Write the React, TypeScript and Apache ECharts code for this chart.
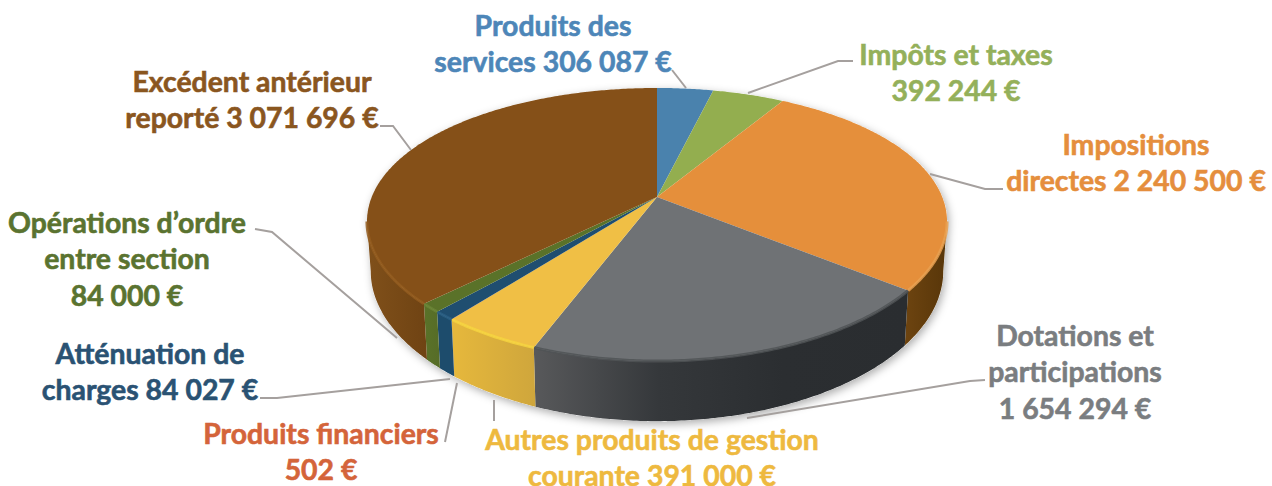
import React, { useEffect, useRef } from "react";
import * as echarts from "echarts";

const categories = [
  "Produits des services",
  "Impôts et taxes",
  "Impositions directes",
  "Dotations et participations",
  "Autres produits de gestion courante",
  "Produits financiers",
  "Atténuation de charges",
  "Opérations d’ordre entre section",
  "Excédent antérieur reporté",
];
const values = [306087, 392244, 2240500, 1654294, 391000, 502, 84027, 84000, 3071696];
const labelTexts = [
  "Produits des\nservices 306 087 €",
  "Impôts et taxes\n392 244 €",
  "Impositions\ndirectes 2 240 500 €",
  "Dotations et\nparticipations\n1 654 294 €",
  "Autres produits de gestion\ncourante 391 000 €",
  "Produits financiers\n502 €",
  "Atténuation de\ncharges 84 027 €",
  "Opérations d’ordre\nentre section\n84 000 €",
  "Excédent antérieur\nreporté 3 071 696 €",
];
const topColors = ["#4a82ad", "#93ae4f", "#e58f3b", "#6f7275", "#f0bf45", "#d9622e", "#1f4e70", "#5a7229", "#855018"];
const labelColors = ["#4d86b8", "#94b05a", "#e58e3d", "#7a7d80", "#eeb93f", "#d4643a", "#2a5273", "#5a7330", "#8a561f"];
const bevelColors = ["#5a92bd", "#a3be5f", "#e9a050", "#505356", "#f6d43e", "#e0704a", "#2a5f84", "#6a8435", "#935c1e"];
const wallStops: string[][] = [
  ["#3a6a8d", "#3a6a8d"],
  ["#76903e", "#76903e"],
  ["#6d4410", "#583609"],
  ["#58595b", "#35383b", "#2b2e31", "#2a2d30"],
  ["#e6b83c", "#cfa63c"],
  ["#b04a20", "#b04a20"],
  ["#1d4c6c", "#1d4c6c"],
  ["#5a7229", "#566c27"],
  ["#80501a", "#6f4313"],
];
const labelCentres = [
  [553, 43], [956, 72], [1136, 162], [1075, 371], [652, 457], [321, 451], [150, 371], [127, 258], [252, 99],
];
const leaders = [
  [[672, 70], [686, 88]],
  [[853, 61], [838, 61], [748, 93]],
  [[1003, 189], [985, 189], [930, 174]],
  [[985, 380], [970, 381], [747, 418]],
  [[494, 400], [494, 421]],
  [[457, 383], [445, 442]],
  [[260, 398], [277, 398], [450, 379]],
  [[255, 229], [272, 232], [397, 338]],
  [[380, 126], [393, 126], [411, 150]],
];

const CX = 657, CY = 197, A = 131, B = 285.3, P = 0.2015, PX = 0.18, D = 48, BOTTOM_X = 0.987;
const total = values.reduce((a, b) => a + b, 0);
const cumulative = values.reduce<number[]>((acc, v) => [...acc, acc[acc.length - 1] + v], [0]);
const toAngle = (v: number) => (v / total) * Math.PI * 2;
const WALL_START = Math.acos(-PX);
const WALL_END = Math.PI * 2 - WALL_START;

function project(theta: number, r: number, bottom: boolean): number[] {
  const u = Math.sin(theta) * r;
  const v = -Math.cos(theta) * r;
  const s = 1 / (1 - P * v);
  const sx = 1 / (1 - PX * v);
  const x = B * u * sx * (bottom ? BOTTOM_X : 1);
  const y = A * v * s + (bottom ? D * s : 0);
  return [CX + x, CY + y];
}
function arc(a: number, b: number, bottom: boolean): number[][] {
  const n = Math.max(2, Math.ceil((b - a) / 0.01));
  const pts: number[][] = [];
  for (let i = 0; i <= n; i++) pts.push(project(a + ((b - a) * i) / n, 1, bottom));
  return pts;
}

function renderSlice(params: any, api: any) {
  const i = params.dataIndex;
  const start = toAngle(cumulative[i]);
  const end = start + toAngle(api.value(0));
  const children: any[] = [];
  const a = Math.max(start, WALL_START);
  const b = Math.min(end, WALL_END);
  if (b > a) {
    const stops = wallStops[i];
    children.push({
      type: "polygon",
      shape: { points: [...arc(a, b, false), ...arc(a, b, true).reverse()] },
      style: {
        fill: {
          type: "linear", x: 0, y: 0, x2: 1, y2: 0,
          colorStops: stops.map((color, k) => ({ offset: k / (stops.length - 1), color })),
        },
      },
    });
  }
  children.push({
    type: "polygon",
    shape: { points: [[CX, CY], ...arc(start, end, false)] },
    style: { fill: topColors[i] },
  });
  if (b > a) {
    children.push({
      type: "polyline",
      shape: { points: arc(a, b, false) },
      style: { fill: "none", stroke: bevelColors[i], lineWidth: 3, opacity: 0.85 },
    });
  }
  return { type: "group", children };
}

function renderShadow() {
  const pts = [...arc(WALL_START, WALL_END, true), ...arc(WALL_END, WALL_START + Math.PI * 2, false)];
  return {
    type: "polygon",
    shape: { points: pts },
    style: { fill: "#ffffff", shadowColor: "rgba(0,0,0,0.32)", shadowBlur: 9, shadowOffsetX: 2, shadowOffsetY: 3 },
  };
}

export default function App() {
  const ref = useRef<HTMLDivElement>(null);
  useEffect(() => {
    const chart = echarts.init(ref.current!, null, { renderer: "svg" });
    chart.setOption({
      animation: false,
      backgroundColor: "#ffffff",
      series: [
        { type: "custom", coordinateSystem: "none", silent: true, data: [0], renderItem: renderShadow, z: 1 },
        {
          type: "custom",
          coordinateSystem: "none",
          silent: true,
          z: 2,
          data: categories.map((name, i) => ({ name, value: [values[i]] })),
          encode: { value: 0 },
          renderItem: renderSlice,
        },
      ],
      graphic: [
        ...leaders.map((points) => ({
          type: "polyline",
          z: 3,
          shape: { points },
          style: { fill: "none", stroke: "#a5a09e", lineWidth: 2 },
        })),
        ...labelTexts.map((text, i) => ({
          type: "text",
          z: 4,
          x: labelCentres[i][0],
          y: labelCentres[i][1],
          style: {
            text,
            fill: labelColors[i],
            stroke: labelColors[i],
            lineWidth: 0.6,
            font: "bold 28.4px Lato",
            lineHeight: 36.5,
            align: "center",
            verticalAlign: "middle",
          },
        })),
      ],
    });
    return () => chart.dispose();
  }, []);
  return <div ref={ref} style={{ position: "absolute", left: 0, top: 0, width: 1272, height: 486 }} />;
}
